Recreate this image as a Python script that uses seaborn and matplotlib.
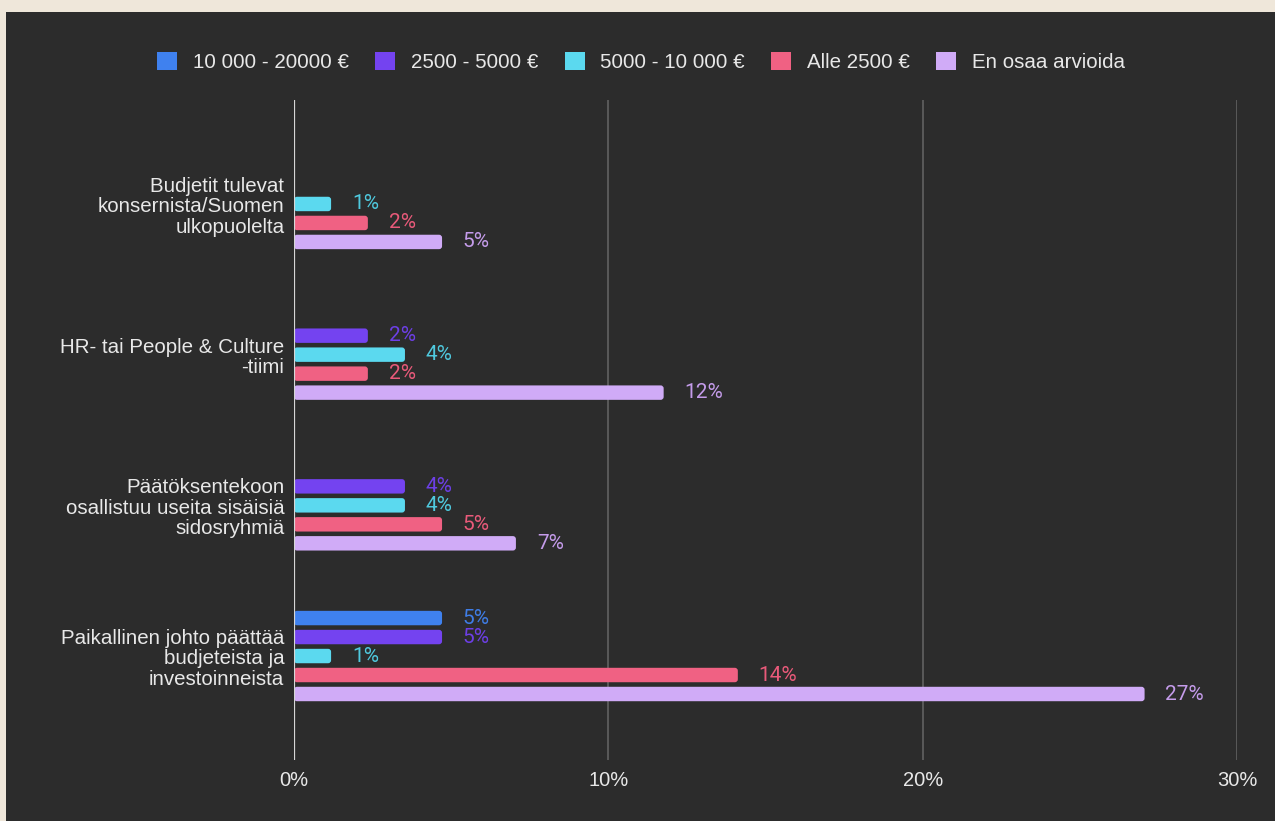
import numpy as np
import pandas as pd
import seaborn as sns
import matplotlib.pyplot as plt
from matplotlib.patches import FancyBboxPatch, Rectangle, Patch

# Budget decision categories (top to bottom)
categories = [
    "Budjetit tulevat\nkonsernista/Suomen\nulkopuolelta",
    "HR- tai People & Culture\n-tiimi",
    "Päätöksentekoon\nosallistuu useita sisäisiä\nsidosryhmiä",
    "Paikallinen johto päättää\nbudjeteista ja\ninvestoinneista",
]
series = ["10 000 - 20000 €", "2500 - 5000 €", "5000 - 10 000 €", "Alle 2500 €", "En osaa arvioida"]

# Share of respondents, percent (NaN = nobody chose this)
v_10000_20000 = [np.nan, np.nan, np.nan, 4.71]
v_2500_5000 = [np.nan, 2.35, 3.53, 4.71]
v_5000_10000 = [1.18, 3.53, 3.53, 1.18]
v_alle_2500 = [2.35, 2.35, 4.71, 14.12]
v_en_osaa = [4.71, 11.76, 7.06, 27.06]

x_ticks = [0, 10, 20, 30]
x_ticklabels = ["0%", "10%", "20%", "30%"]

bar_colors = ["#3f81ef", "#7443f0", "#5bd9ef", "#f06183", "#d0abf7"]
text_colors = ["#3f7de6", "#6d3fe6", "#4fc9de", "#e95a7a", "#c59ceb"]

BG = "#2c2c2c"
PAGE = "#efe7da"
FG = "#e8e8e8"

values = [v_10000_20000, v_2500_5000, v_5000_10000, v_alle_2500, v_en_osaa]
rows = []
for s, vals in zip(series, values):
    for c, v in zip(categories, vals):
        if np.isfinite(v):
            rows.append({"kategoria": c, "budjetti": s, "osuus": v})
df = pd.DataFrame(rows)

sns.set_style("dark")
plt.rcParams["font.family"] = ["Liberation Sans", "DejaVu Sans"]

W, H = 1275, 821
fig = plt.figure(figsize=(W / 100, H / 100), dpi=100, facecolor=PAGE)
fig.patches.append(Rectangle((6 / W, 0), 1, 1 - 12 / H, transform=fig.transFigure,
                             facecolor=BG, edgecolor="none", zorder=-10))

ax = fig.add_axes([294 / W, 1 - 760 / H, (1237 - 294) / W, (760 - 100) / H])
ax.set_facecolor(BG)

sns.barplot(data=df, y="kategoria", x="osuus", hue="budjetti",
            order=categories, hue_order=series, palette=bar_colors,
            orient="h", width=0.63, gap=0.24, errorbar=None,
            saturation=1, linewidth=0, legend=False, ax=ax)

ax.set_xlim(0, 30)
ax.set_ylim(3.69, -0.69)

# per-pixel scale, used to round the bar ends
px_x = 30 / (1237 - 294)
px_y = 4.38 / (760 - 100)

for i, cont in enumerate(ax.containers):
    for bar in cont:
        w = bar.get_width()
        if not np.isfinite(w) or w <= 0:
            continue
        y0, h = bar.get_y(), bar.get_height()
        bar.set_visible(False)
        rounded = FancyBboxPatch((0, y0), w, h,
                                 boxstyle=f"round,pad=0,rounding_size={3 * px_x}",
                                 mutation_aspect=px_y / px_x,
                                 facecolor=bar_colors[i], edgecolor="none", zorder=3)
        ax.add_patch(rounded)
        ax.annotate(f"{w:.0f}%", xy=(w, y0 + h / 2), xytext=(15, 0),
                    textcoords="offset points", ha="left", va="center",
                    color=text_colors[i], fontsize=15,
                    family=["Roboto", "DejaVu Sans"], zorder=4)

ax.set_xticks(x_ticks)
ax.set_xticklabels(x_ticklabels)
ax.tick_params(axis="x", colors=FG, labelsize=14.5, length=0, pad=8)
ax.tick_params(axis="y", colors=FG, labelsize=14.8, length=0, pad=7)
for lab in ax.get_yticklabels():
    lab.set_linespacing(1.1)
    lab.set_horizontalalignment("right")
    lab.set_multialignment("right")

ax.grid(axis="x", color="#626262", linewidth=1.2, zorder=0)
ax.grid(axis="y", visible=False)
ax.axvline(0, color="#d6d6d6", linewidth=1.6, zorder=5)
for sp in ax.spines.values():
    sp.set_visible(False)
ax.set_xlabel("")
ax.set_ylabel("")

handles = [Patch(facecolor=c, edgecolor="none") for c in bar_colors]
fig.legend(handles, series, loc="center", bbox_to_anchor=(641 / W, 1 - 62 / H),
           ncol=5, frameon=False, fontsize=14.8, labelcolor=FG,
           handlelength=0.97, handleheight=0.97, handletextpad=0.75,
           columnspacing=1.3)

fig.savefig("out.png", dpi=100, facecolor=PAGE)
